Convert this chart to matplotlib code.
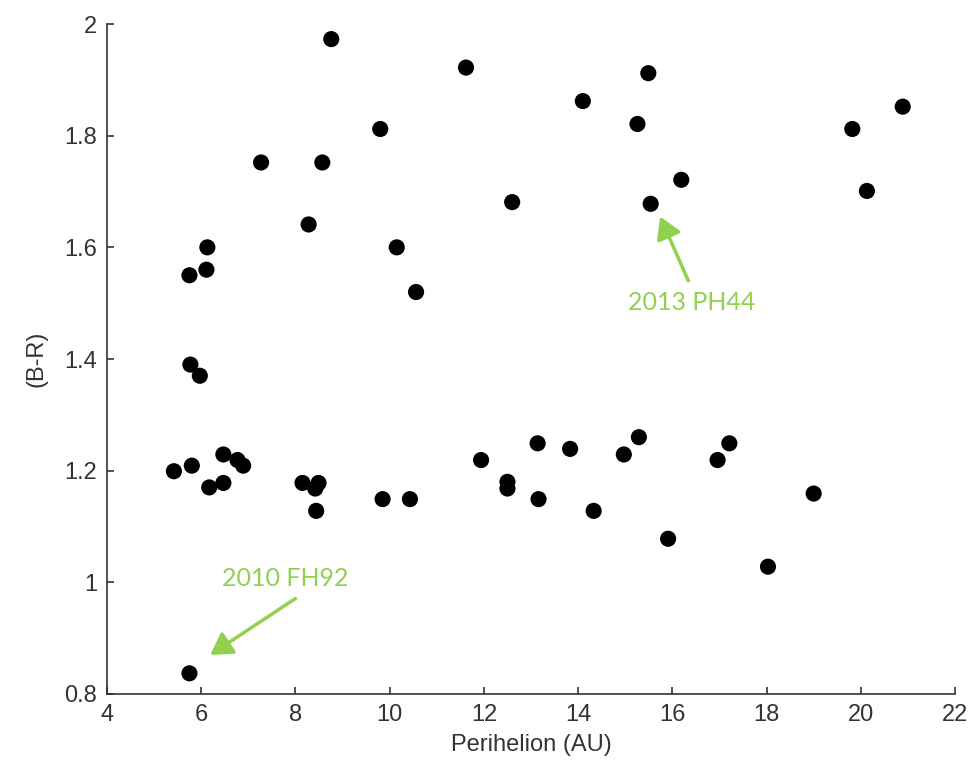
import matplotlib
matplotlib.use("Agg")
import matplotlib.pyplot as plt

# perihelion (AU) vs (B-R) colour
perihelion = [8.76, 11.62, 15.49, 14.10, 20.89, 15.26, 9.80, 19.82, 7.27, 8.57,
              16.19, 20.13, 12.60, 15.54, 8.28, 6.13, 10.15, 5.75, 6.11, 10.56,
              5.77, 5.97,
              5.42, 5.80, 6.17, 6.47, 6.47, 6.77, 6.89, 8.15, 8.42, 8.49,
              8.44, 9.85, 10.43, 11.94, 12.50, 12.50, 13.14, 13.16, 13.83, 14.33,
              14.97, 15.29, 15.91, 16.96, 17.21, 18.03, 19.00, 5.75]
b_r = [1.973, 1.922, 1.912, 1.862, 1.852, 1.821, 1.812, 1.812, 1.752, 1.752,
       1.721, 1.701, 1.681, 1.678, 1.641, 1.600, 1.600, 1.550, 1.560, 1.520,
       1.390, 1.370,
       1.199, 1.209, 1.170, 1.229, 1.178, 1.219, 1.209, 1.178, 1.168, 1.178,
       1.128, 1.149, 1.149, 1.219, 1.180, 1.168, 1.249, 1.149, 1.239, 1.128,
       1.229, 1.260, 1.078, 1.219, 1.249, 1.028, 1.159, 0.837]

# annotations: label, text position, arrow tail, arrow head
labels = ["2013 PH44", "2010 FH92"]
label_xy = [(16.40, 1.502), (7.78, 1.006)]
arrow_tail = [(16.34, 1.540), (8.00, 0.971)]
arrow_head = [(15.74, 1.655), (6.19, 0.870)]

green = "#92d050"
axis_col = "#333333"
tick_font = ["Liberation Sans Narrow", "Liberation Sans", "DejaVu Sans"]

fig = plt.figure(figsize=(9.79, 7.83), dpi=100)
ax = fig.add_axes([0.1093, 0.1137, 0.8662, 0.8556])

ax.scatter(perihelion, b_r, s=135, color="black", edgecolors="none", zorder=3)

ax.set_xlim(4, 22)
ax.set_ylim(0.8, 2.0)
ax.set_xticks(range(4, 23, 2))
ax.set_yticks([0.8, 1.0, 1.2, 1.4, 1.6, 1.8, 2.0])
ax.set_yticklabels(["0.8", "1", "1.2", "1.4", "1.6", "1.8", "2"])

for side in ["top", "right"]:
    ax.spines[side].set_visible(False)
for side in ["left", "bottom"]:
    ax.spines[side].set_color(axis_col)
    ax.spines[side].set_linewidth(1.2)

ax.tick_params(direction="in", length=5, width=1.2, color=axis_col,
               labelcolor=axis_col, labelsize=17, pad=7)
for t in ax.get_xticklabels() + ax.get_yticklabels():
    t.set_family(tick_font)

ax.set_xlabel("Perihelion (AU)", fontsize=17, color=axis_col, family=tick_font, labelpad=6)
ax.set_ylabel("(B-R)", fontsize=17, color=axis_col, family=tick_font, labelpad=12)

for lab, txy, tail, head in zip(labels, label_xy, arrow_tail, arrow_head):
    ax.text(txy[0], txy[1], lab, fontsize=18, color=green,
            family=["Lato", "DejaVu Sans"], ha="center", va="center")
    ax.annotate("", xy=head, xytext=tail,
                arrowprops=dict(arrowstyle="-|>,head_length=0.5,head_width=0.3",
                                color=green, lw=2.5,
                                mutation_scale=26, shrinkA=0, shrinkB=0))

fig.savefig("out.png", dpi=100)
